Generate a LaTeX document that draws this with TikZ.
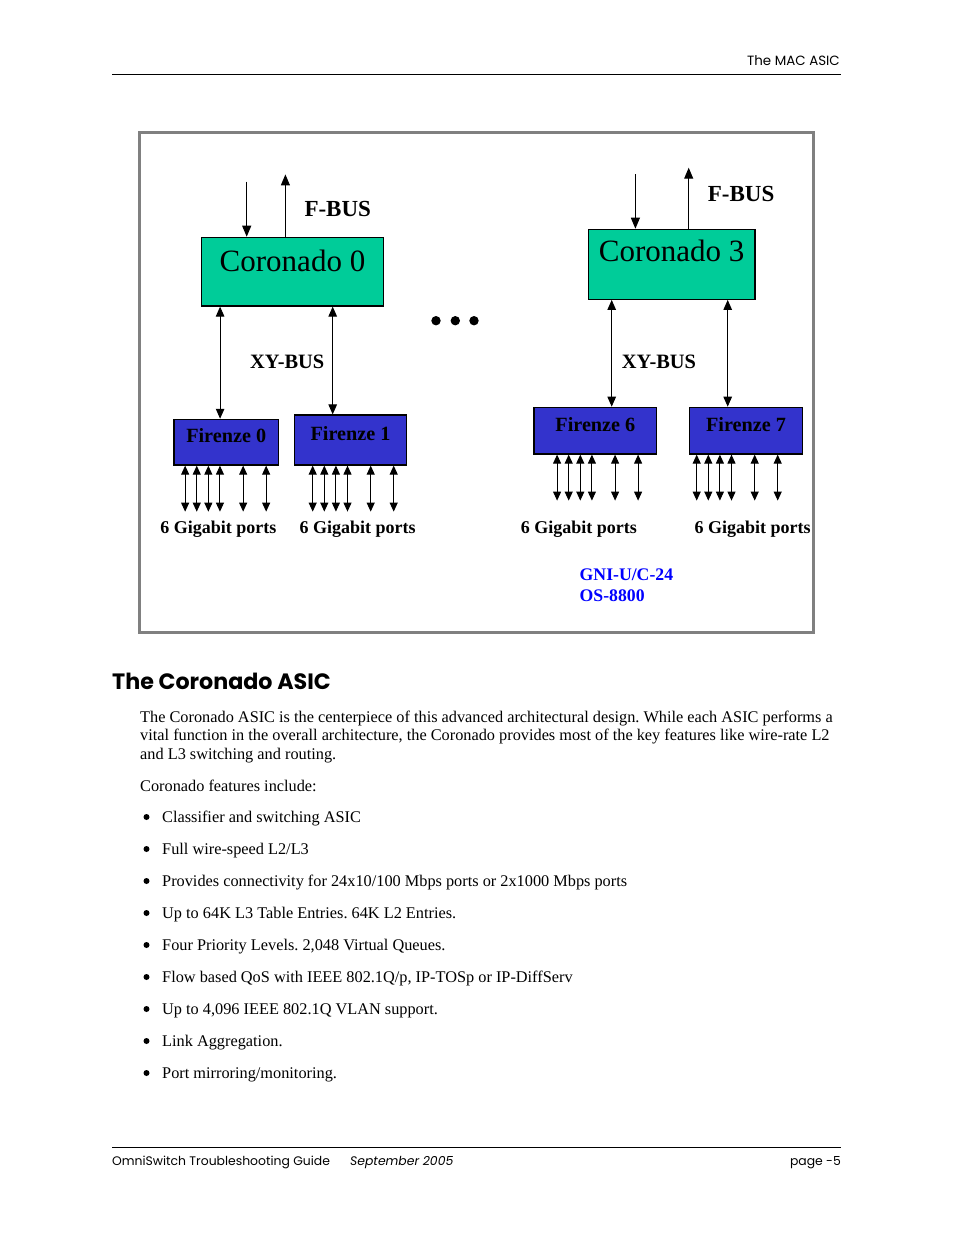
\documentclass[tikz,border=0pt]{standalone}
\usepackage{fontspec}
\setmainfont{Liberation Serif}
\newfontfamily\futura{Poppins}
\usetikzlibrary{arrows.meta,calc}
\definecolor{coro}{RGB}{0,204,153}
\definecolor{fire}{RGB}{51,51,204}
\definecolor{framegray}{RGB}{128,128,128}
\definecolor{gni}{RGB}{0,0,255}
\begin{document}
\frenchspacing
\begin{tikzpicture}[x=1pt,y=-1pt,
  coronado/.style={draw, line width=1.2pt, fill=coro, inner sep=0pt, font=\fontsize{31}{31}\selectfont, text height=22pt},
  firenze/.style={draw, line width=1.2pt, fill=fire, inner sep=0pt, font=\bfseries\fontsize{20.2}{20}\selectfont, text height=15pt},
  fbuslabel/.style={anchor=base west, inner sep=0pt, font=\bfseries\fontsize{23}{23}\selectfont},
  xylabel/.style={anchor=base west, inner sep=0pt, font=\bfseries\fontsize{20.4}{20}\selectfont},
  portlabel/.style={anchor=base, inner sep=0pt, font=\bfseries\fontsize{18}{18}\selectfont},
  gnilabel/.style={anchor=base west, inner sep=0pt, text=gni, font=\bfseries\fontsize{17.7}{17.7}\selectfont},
  fbus/.style={line width=1pt, -{Triangle[width=9pt,length=11pt]}},
  xybus/.style={line width=1pt, {Triangle[width=8.5pt,length=10pt]}-{Triangle[width=8.5pt,length=10pt]}},
  port/.style={line width=1pt, {Triangle[width=8pt,length=9pt]}-{Triangle[width=8pt,length=9pt]}},
  bodytext/.style={anchor=base west, inner sep=0pt, font=\fontsize{16.3}{18}\selectfont},
  bulletmark/.style={circle, fill, inner sep=0pt, minimum size=6pt},
  pagetext/.style={inner sep=0pt, font=\futura\fontsize{12.4}{13}\selectfont},
  heading/.style={anchor=base west, inner sep=0pt, font=\futura\bfseries\fontsize{22.2}{22}\selectfont},
  rule/.style={line width=1pt}
]
\useasboundingbox (0,0) rectangle (954,1235);
\fill[white] (0,0) rectangle (954,1235);

% header / footer
\node[pagetext, anchor=base east, font=\futura\fontsize{13.4}{13}\selectfont] (hdr) at (840,65) {The MAC ASIC};
\coordinate (hl) at (112,74); \coordinate (hr) at (841,74);
\draw[rule] (hl) -- (hr);
\coordinate (fl) at (112,1147); \coordinate (fr) at (841,1147);
\draw[rule] (fl) -- (fr);
\node[pagetext, anchor=base west] (ft1) at (112,1165) {OmniSwitch Troubleshooting Guide};
\node[pagetext, anchor=base west] (ft2) at (350,1165) {\itshape September 2005};
\node[pagetext, anchor=base east] (ft3) at (841,1165) {page -5};

% frame
\draw[framegray, line width=3pt] (139.5,132.5) rectangle (813,632);

% Coronado boxes
\node[coronado, minimum width=181.6pt, minimum height=68.7pt, text depth=23.3pt] (c0) at (292.5,271.65) {Coronado 0};
\node[coronado, minimum width=166.7pt, minimum height=70pt, text depth=27.2pt] (c3) at (671.65,264.3) {Coronado 3};

% Firenze boxes
\node[firenze, minimum width=104.3pt, minimum height=45.7pt, text depth=13.9pt] (f0) at (226.2,442.2) {Firenze 0};
\node[firenze, minimum width=112.4pt, minimum height=50pt, text depth=15pt] (f1) at (350.5,440) {Firenze 1};
\node[firenze, minimum width=122.7pt, minimum height=46.7pt, text depth=12.9pt] (f6) at (595.35,430.65) {Firenze 6};
\node[firenze, minimum width=113.4pt, minimum height=46.7pt, text depth=12.9pt] (f7) at (746,430.65) {Firenze 7};

% F-BUS arrows
\draw[fbus] ($(c0.north west)+(45.6,-55)$) -- ($(c0.north west)+(45.6,0)$);
\draw[fbus] ($(c0.north west)+(84.3,0)$) -- ($(c0.north west)+(84.3,-62.3)$);
\draw[fbus] ($(c3.north west)+(47.7,-54.3)$) -- ($(c3.north west)+(47.7,0)$);
\draw[fbus] ($(c3.north west)+(101,0)$) -- ($(c3.north west)+(101,-61)$);
\node[fbuslabel] (fb0) at (304.3,216.7) {F-BUS};
\node[fbuslabel] (fb3) at (707.7,201) {F-BUS};

% XY-BUS arrows
\coordinate (xa) at ($(c0.south west)+(19,0)$);
\coordinate (xb) at ($(c0.south west)+(131.6,0)$);
\coordinate (xc) at ($(c3.south west)+(24,0)$);
\coordinate (xd) at ($(c3.south west)+(140,0)$);
\draw[xybus] (xa) -- (xa |- f0.north);
\draw[xybus] (xb) -- (xb |- f1.north);
\draw[xybus] (xc) -- (xc |- f6.north);
\draw[xybus] (xd) -- (xd |- f7.north);
\node[xylabel] (xy0) at (250,368.3) {XY-BUS};
\node[xylabel] (xy3) at (621.7,368.3) {XY-BUS};

% ports
\foreach \dx in {0,11.6,23.2,34.8,58,81} {
  \draw[port] ($(f0.south west)+(11.7+\dx,0)$) -- ++(0,46);
  \draw[port] ($(f1.south west)+(19+\dx,0)$) -- ++(0,46);
  \draw[port] ($(f6.south west)+(23.7+\dx,0)$) -- ++(0,46);
  \draw[port] ($(f7.south west)+(8+\dx,0)$) -- ++(0,46);
}
\node[portlabel] (p0) at (218.3,533) {6 Gigabit ports};
\node[portlabel] (p1) at (357.7,533) {6 Gigabit ports};
\node[portlabel] (p6) at (578.8,533) {6 Gigabit ports};
\node[portlabel] (p7) at (752.5,533) {6 Gigabit ports};

% dots
\fill (436,320.7) circle (4.7);
\fill (455.3,320.7) circle (4.7);
\fill (474,320.7) circle (4.7);

\node[gnilabel] (g1) at (579.5,580) {GNI-U/C-24};
\node[gnilabel] (g2) at (579.5,601) {OS-8800};

% text
\node[heading] (h) at (112,689) {The Coronado ASIC};
\node[bodytext] (t1) at (140,722) {The Coronado ASIC is the centerpiece of this advanced architectural design. While each ASIC performs a};
\node[bodytext] (t2) at (140,740.5) {vital function in the overall architecture, the Coronado provides most of the key features like wire-rate L2};
\node[bodytext] (t3) at (140,759) {and L3 switching and routing.};
\node[bodytext] (t4) at (140,791) {Coronado features include:};

\node[bulletmark] (b1) at (146.5,817) {};
\node[bodytext] (l1) at (162,822) {Classifier and switching ASIC};
\node[bulletmark] (b2) at (146.5,849) {};
\node[bodytext] (l2) at (162,854) {Full wire-speed L2/L3};
\node[bulletmark] (b3) at (146.5,881) {};
\node[bodytext] (l3) at (162,886) {Provides connectivity for 24x10/100 Mbps ports or 2x1000 Mbps ports};
\node[bulletmark] (b4) at (146.5,913) {};
\node[bodytext] (l4) at (162,918) {Up to 64K L3 Table Entries. 64K L2 Entries.};
\node[bulletmark] (b5) at (146.5,945) {};
\node[bodytext] (l5) at (162,950) {Four Priority Levels. 2,048 Virtual Queues.};
\node[bulletmark] (b6) at (146.5,977) {};
\node[bodytext] (l6) at (162,982) {Flow based QoS with IEEE 802.1Q/p, IP-TOSp or IP-DiffServ};
\node[bulletmark] (b7) at (146.5,1009) {};
\node[bodytext] (l7) at (162,1014) {Up to 4,096 IEEE 802.1Q VLAN support.};
\node[bulletmark] (b8) at (146.5,1041) {};
\node[bodytext] (l8) at (162,1046) {Link Aggregation.};
\node[bulletmark] (b9) at (146.5,1073) {};
\node[bodytext] (l9) at (162,1078) {Port mirroring/monitoring.};
\end{tikzpicture}
\end{document}
